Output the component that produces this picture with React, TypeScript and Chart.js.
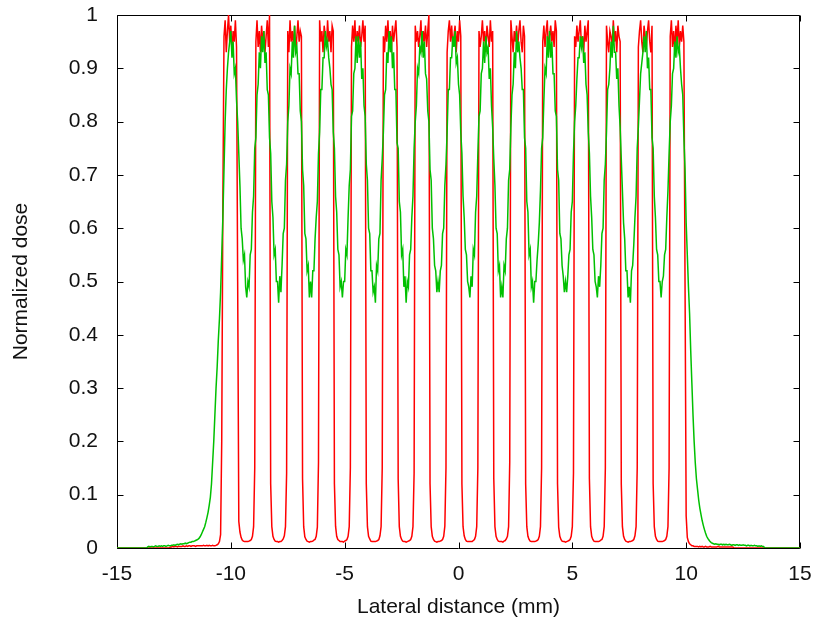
import React, { useEffect, useRef } from 'react';
import { Chart, registerables } from 'chart.js';

Chart.register(...registerables);

// ---- axes ----
const X_MIN = -15;
const X_MAX = 15;
const X_TICK_STEP = 5;
const Y_MIN = 0;
const Y_MAX = 1;
const Y_TICK_STEP = 0.1;
const X_TITLE = 'Lateral distance (mm)';
const Y_TITLE = 'Normalized dose';

// ---- sampling: each segment starts at a given lateral position (mm), samples every 0.05 mm ----
const SAMPLE_STEP = 0.05;
const leftTailStart = -15;
const peakStarts = [-10.7, -9.3, -7.9, -6.5, -5.1, -3.7, -2.3, -0.9, 0.5, 1.9, 3.3, 4.7, 6.1, 7.5, 8.9];
const rightTailStart = 10.3;

// ---- red series (narrow microbeams) ----
const redLeftTail = [
  0,0,0,0,0,0,0,0,0,0, 0,0,0,0,0,0,0,0,0,0, 0,0,0,0,0,0,0,0,0,0, 0,0,0,0,0,0,0,0,0,0, 0,0,0,0,0,0,0,
  0.002,0.002,0.003,0.002,0.003,0.003,0.002,0.003,0.003,0.003,
  0.003,0.004,0.003,0.003,0.004,0.003,0.004,0.004,0.003,0.004,
  0.004,0.004,0.003,0.004,0.004,0.004,0.004,0.004,0.004,0.005,
  0.004,0.004,0.005,0.004,0.005,0.004,0.004,0.005,0.004,
];
const redPeak00 = [0.004,0.005,0.006,0.008,0.012,0.025,0.2,0.65, 0.96,0.99,0.93,0.97,1.0,0.95,0.98,0.93,0.97,0.95,0.99,0.94, 0.5,0.05,0.03,0.02,0.015,0.013,0.012,0.012];
const redPeak01 = [0.012,0.012,0.013,0.014,0.016,0.022,0.04,0.15, 0.95,0.99,0.94,0.97,0.93,0.98,0.95,0.97,0.93,0.96,0.99,0.94,1.0, 0.12,0.04,0.022,0.016,0.013,0.012,0.012];
const redPeak02 = [0.011,0.012,0.012,0.014,0.017,0.023,0.04,0.14, 0.97,0.93,0.99,0.95,0.97,0.94,0.98,0.93,0.96,0.99,0.95,0.97,0.96, 0.13,0.04,0.021,0.016,0.013,0.012,0.011];
const redPeak03 = [0.012,0.012,0.013,0.015,0.016,0.022,0.039,0.16, 0.99,0.95,0.97,0.93,0.98,0.96,0.94,0.99,0.95,0.97,0.93,0.98,0.97, 0.12,0.041,0.022,0.016,0.014,0.012,0.012];
const redPeak04 = [0.012,0.011,0.013,0.014,0.016,0.022,0.04,0.15, 0.94,0.98,0.95,0.99,0.93,0.97,0.95,0.98,0.94,0.96,0.99,0.95,0.98, 0.12,0.04,0.022,0.017,0.013,0.012,0.012];
const redPeak05 = [0.012,0.012,0.013,0.014,0.016,0.023,0.04,0.15, 0.96,0.93,0.98,0.95,0.99,0.94,0.97,0.93,0.98,0.95,0.97,0.99,0.94, 0.13,0.04,0.022,0.016,0.013,0.012,0.012];
const redPeak06 = [0.011,0.012,0.013,0.014,0.016,0.022,0.04,0.14, 0.98,0.95,0.97,0.94,0.96,0.99,0.93,0.97,0.95,0.98,0.94,0.97,1.0, 0.12,0.04,0.022,0.016,0.013,0.012,0.011];
const redPeak07 = [0.012,0.012,0.013,0.014,0.016,0.022,0.041,0.15, 0.93,0.97,0.99,0.95,0.98,0.94,0.96,0.98,0.93,0.97,0.95,0.99,0.96, 0.12,0.04,0.023,0.016,0.013,0.012,0.012];
const redPeak08 = [0.012,0.012,0.012,0.014,0.016,0.022,0.04,0.15, 0.97,0.94,0.96,0.99,0.95,0.97,0.93,0.98,0.96,0.94,0.99,0.95,0.97, 0.13,0.04,0.022,0.016,0.013,0.012,0.012];
const redPeak09 = [0.012,0.011,0.013,0.014,0.017,0.022,0.04,0.16, 0.99,0.96,0.93,0.97,0.95,0.98,0.94,0.97,0.99,0.95,0.93,0.98,0.96, 0.12,0.04,0.022,0.016,0.013,0.012,0.012];
const redPeak10 = [0.012,0.012,0.013,0.014,0.016,0.022,0.04,0.15, 0.95,0.98,0.94,0.97,0.99,0.93,0.96,0.98,0.95,0.97,0.94,0.99,0.97, 0.12,0.039,0.022,0.016,0.013,0.012,0.012];
const redPeak11 = [0.011,0.012,0.013,0.014,0.016,0.022,0.04,0.14, 0.96,0.94,0.98,0.95,0.97,0.99,0.94,0.96,0.93,0.98,0.95,0.97,0.99, 0.13,0.04,0.022,0.016,0.013,0.012,0.012];
const redPeak12 = [0.012,0.012,0.013,0.015,0.016,0.022,0.04,0.15, 0.98,0.95,0.93,0.97,0.96,0.94,0.99,0.95,0.97,0.93,0.98,0.96,0.95, 0.12,0.04,0.022,0.016,0.013,0.012,0.011];
const redPeak13 = [0.012,0.012,0.013,0.014,0.016,0.023,0.04,0.15, 0.94,0.97,0.99,0.95,0.93,0.98,0.96,0.94,0.97,0.99,0.95,0.93,0.98, 0.12,0.04,0.022,0.016,0.013,0.012,0.012];
const redPeak14 = [0.012,0.012,0.013,0.014,0.016,0.022,0.04,0.15, 0.96,0.99,0.94,0.97,0.93,0.98,0.95,0.99,0.94,0.97,0.95,0.98,0.95, 0.5,0.06,0.02,0.012,0.008,0.006,0.004];
const redRightTail = [
  0.004,0.003,0.003,0.003,0.003,0.002,0.003,0.002,0.003,0.002,
  0.002,0.003,0.002,0.002,0.002,0.003,0.002,0.002,0.002,0.002,
  0.002,0.002,0.003,0.002,0.002,0.002,0.002,0.002,0.002,0.002,
  0.002,0.002,0.002,0.002,0.002,0.002,
  0,0,0,0,0,0,0,0,0,0, 0,0,0,0,0,0,0,0,0,0, 0,0,0,0,0,0,0,0,0,0, 0,0,0,0,0,0,0,0,0,0, 0,0,0,0,0,0,0,0,0,0, 0,0,0,0,0,0,0,0,0,
];

// ---- green series (broad, noisy) ----
const greenLeftTail = [
  0,0,0,0,0,0,0,0,0,0, 0,0,0,0,0,0,0,0,0,0, 0,0,0,0,0,0,0,
  0.002,0.003,0.002,0.003,0.003,0.002,0.003,0.004,0.003,0.003,
  0.004,0.003,0.004,0.003,0.004,0.004,0.003,0.004,0.005,0.004,
  0.004,0.005,0.005,
  0.006,0.005,0.006,0.007,0.006,0.007,0.008,0.007,0.008,0.008,0.009,0.008,0.009,0.01,
  0.011,0.011,0.012,0.012,0.013,0.014,0.015,0.016,
  0.018,0.021,0.025,0.03,0.035,0.04,0.048,0.057,0.067,0.08,0.095,0.12,0.16,0.2,
];
const greenPeak00 = [0.25,0.3,0.34,0.39,0.43,0.48,0.55,0.62,0.71,0.8,0.86,0.9,0.93,0.95, 0.97,0.92,0.95,0.89,0.9,0.84,0.8,0.74,0.68,0.6,0.58,0.54,0.55,0.49];
const greenPeak01 = [0.47,0.5,0.49,0.55,0.56,0.63,0.66,0.75,0.77,0.85,0.87,0.93,0.9,0.96, 0.93,0.97,0.91,0.93,0.86,0.85,0.77,0.74,0.65,0.62,0.55,0.56,0.5,0.5];
const greenPeak02 = [0.46,0.51,0.48,0.53,0.59,0.6,0.69,0.72,0.8,0.83,0.9,0.89,0.95,0.92, 0.98,0.93,0.94,0.89,0.89,0.82,0.8,0.71,0.68,0.59,0.58,0.52,0.53,0.47];
const greenPeak03 = [0.5,0.47,0.52,0.52,0.58,0.62,0.65,0.74,0.78,0.86,0.86,0.92,0.92,0.97, 0.94,0.95,0.92,0.9,0.87,0.86,0.78,0.75,0.66,0.63,0.56,0.55,0.49,0.5];
const greenPeak04 = [0.47,0.5,0.5,0.56,0.55,0.62,0.68,0.71,0.81,0.82,0.89,0.9,0.96,0.91, 0.96,0.92,0.95,0.88,0.9,0.83,0.81,0.72,0.69,0.6,0.59,0.52,0.52,0.48];
const greenPeak05 = [0.49,0.46,0.53,0.52,0.58,0.59,0.69,0.73,0.78,0.85,0.86,0.93,0.91,0.97, 0.93,0.96,0.9,0.93,0.86,0.86,0.76,0.75,0.65,0.63,0.55,0.56,0.49,0.51];
const greenPeak06 = [0.46,0.5,0.49,0.55,0.56,0.62,0.66,0.75,0.8,0.83,0.9,0.89,0.94,0.93, 0.97,0.92,0.95,0.89,0.88,0.82,0.8,0.71,0.69,0.6,0.58,0.53,0.52,0.48];
const greenPeak07 = [0.5,0.48,0.52,0.53,0.59,0.6,0.68,0.72,0.78,0.86,0.86,0.92,0.92,0.96, 0.94,0.97,0.91,0.92,0.87,0.85,0.78,0.74,0.66,0.62,0.56,0.55,0.5,0.49];
const greenPeak08 = [0.47,0.51,0.49,0.56,0.55,0.63,0.66,0.74,0.81,0.82,0.89,0.9,0.95,0.91, 0.96,0.93,0.94,0.88,0.9,0.83,0.79,0.73,0.68,0.6,0.59,0.52,0.53,0.47];
const greenPeak09 = [0.49,0.47,0.53,0.52,0.58,0.6,0.69,0.71,0.79,0.85,0.87,0.93,0.9,0.97, 0.93,0.95,0.92,0.9,0.86,0.86,0.77,0.75,0.65,0.63,0.55,0.56,0.49,0.5];
const greenPeak10 = [0.46,0.5,0.5,0.54,0.57,0.61,0.67,0.75,0.77,0.84,0.9,0.89,0.96,0.92, 0.97,0.92,0.95,0.89,0.89,0.82,0.81,0.71,0.69,0.59,0.58,0.53,0.51,0.48];
const greenPeak11 = [0.5,0.48,0.51,0.55,0.56,0.63,0.65,0.74,0.8,0.83,0.88,0.92,0.92,0.96, 0.94,0.96,0.91,0.93,0.87,0.85,0.78,0.74,0.66,0.62,0.56,0.55,0.5,0.49];
const greenPeak12 = [0.47,0.51,0.49,0.53,0.59,0.6,0.69,0.72,0.78,0.86,0.87,0.9,0.95,0.92, 0.98,0.93,0.93,0.88,0.9,0.83,0.79,0.73,0.67,0.61,0.58,0.52,0.52,0.47];
const greenPeak13 = [0.49,0.46,0.52,0.53,0.57,0.62,0.66,0.75,0.79,0.84,0.89,0.91,0.93,0.96, 0.93,0.97,0.9,0.92,0.86,0.86,0.77,0.75,0.66,0.62,0.56,0.55,0.5,0.5];
const greenPeak14 = [0.47,0.5,0.51,0.55,0.56,0.62,0.67,0.74,0.8,0.83,0.89,0.9,0.95,0.92, 0.96,0.93,0.94,0.9,0.87,0.85,0.77,0.71,0.61,0.55,0.49,0.44,0.37,0.31];
const greenRightTail = [
  0.25,0.2,0.16,0.13,0.11,0.09,0.075,0.063,0.052,0.043,0.035,0.028,0.022,0.018,0.015,0.012,0.01,0.009,
  0.008,0.007,0.008,0.007,0.007,0.006,0.007,0.007,0.006,0.007,
  0.006,0.007,0.006,0.006,0.007,0.006,0.005,0.006,0.006,0.005,
  0.006,0.006,0.005,0.006,0.005,0.005,0.006,0.005,0.005,0.004,
  0.005,0.005,0.004,0.005,0.004,0.004,0.005,0.004,0.004,0.003,
  0.004,0.003,0.004,0.003,0.003,
  0,0,0,0,0,0,0,0,0,0, 0,0,0,0,0,0,0,0,0,0, 0,0,0,0,0,0,0,0,0,0, 0,0,
];

const redPeaks = [redPeak00, redPeak01, redPeak02, redPeak03, redPeak04, redPeak05, redPeak06, redPeak07, redPeak08, redPeak09, redPeak10, redPeak11, redPeak12, redPeak13, redPeak14];
const greenPeaks = [greenPeak00, greenPeak01, greenPeak02, greenPeak03, greenPeak04, greenPeak05, greenPeak06, greenPeak07, greenPeak08, greenPeak09, greenPeak10, greenPeak11, greenPeak12, greenPeak13, greenPeak14];

type Pt = { x: number; y: number };
function segmentPoints(start: number, values: number[]): Pt[] {
  return values.map((v, j) => ({ x: +(start + j * SAMPLE_STEP).toFixed(3), y: v }));
}
function buildSeries(leftTail: number[], peaks: number[][], rightTail: number[]): Pt[] {
  const pts: Pt[] = [];
  pts.push(...segmentPoints(leftTailStart, leftTail));
  peaks.forEach((p, k) => pts.push(...segmentPoints(peakStarts[k], p)));
  pts.push(...segmentPoints(rightTailStart, rightTail));
  return pts;
}

const FONT = { family: "'Liberation Sans', Arial, sans-serif", size: 21 };
const TEXT_COLOR = '#111';
const TICK_LEN = 6;

const framePlugin = {
  id: 'gnuplotFrame',
  beforeDatasetsDraw(chart: any) {
    const { ctx, chartArea: a, scales } = chart;
    ctx.save();
    ctx.strokeStyle = '#000';
    ctx.lineWidth = 1;
    const L = Math.round(a.left) + 0.5;
    const R = Math.round(a.right) - 0.5;
    const T = Math.round(a.top) + 0.5;
    const B = Math.round(a.bottom) + 0.5;
    ctx.beginPath();
    ctx.rect(L, T, R - L, B - T);
    ctx.stroke();
    ctx.beginPath();
    for (const t of scales.x.ticks) {
      const px = Math.round(scales.x.getPixelForValue(t.value)) + 0.5;
      ctx.moveTo(px, B); ctx.lineTo(px, B - TICK_LEN);
      ctx.moveTo(px, T); ctx.lineTo(px, T + TICK_LEN);
    }
    for (const t of scales.y.ticks) {
      const py = Math.round(scales.y.getPixelForValue(t.value)) + 0.5;
      ctx.moveTo(L, py); ctx.lineTo(L + TICK_LEN, py);
      ctx.moveTo(R, py); ctx.lineTo(R - TICK_LEN, py);
    }
    ctx.stroke();
    ctx.restore();
  },
};

export default function App() {
  const ref = useRef<HTMLCanvasElement | null>(null);
  useEffect(() => {
    if (!ref.current) return;
    const chart = new Chart(ref.current, {
      type: 'line',
      data: {
        datasets: [
          {
            label: 'green',
            data: buildSeries(greenLeftTail, greenPeaks, greenRightTail),
            borderColor: '#00c000',
            borderWidth: 1.5,
            pointRadius: 0,
            tension: 0,
            fill: false,
          },
          {
            label: 'red',
            data: buildSeries(redLeftTail, redPeaks, redRightTail),
            borderColor: '#ff0000',
            borderWidth: 1.5,
            pointRadius: 0,
            tension: 0,
            fill: false,
          },
        ],
      },
      options: {
        animation: false,
        responsive: false,
        maintainAspectRatio: false,
        devicePixelRatio: 1,
        layout: { padding: { left: 0, top: 15, right: 13, bottom: 0 } },
        plugins: { legend: { display: false }, tooltip: { enabled: false } },
        scales: {
          x: {
            type: 'linear',
            min: X_MIN,
            max: X_MAX,
            grid: { display: false, drawTicks: false, tickLength: 0 },
            border: { display: false },
            ticks: { stepSize: X_TICK_STEP, font: FONT, color: TEXT_COLOR, padding: 14, maxRotation: 0 },
            title: { display: true, text: X_TITLE, font: FONT, color: TEXT_COLOR, padding: { top: 0, bottom: 6 } },
            afterFit: (s: any) => {
              s.height = 78;
              s.paddingLeft = 0;
              s.paddingRight = 0;
            },
          },
          y: {
            type: 'linear',
            min: Y_MIN,
            max: Y_MAX,
            grid: { display: false, drawTicks: false, tickLength: 0 },
            border: { display: false },
            ticks: {
              stepSize: Y_TICK_STEP,
              font: FONT,
              color: TEXT_COLOR,
              padding: 19,
              callback: (v: any) => String(+Number(v).toFixed(1)),
            },
            title: { display: true, text: Y_TITLE, font: FONT, color: TEXT_COLOR, padding: { top: 9, bottom: 0 } },
            afterFit: (s: any) => {
              s.width = 117;
              s.paddingTop = 0;
              s.paddingBottom = 0;
            },
          },
        },
      },
      plugins: [framePlugin],
    });
    return () => chart.destroy();
  }, []);
  return (
    <div style={{ position: 'fixed', left: 0, top: 0, width: 813, height: 626, background: '#fff' }}>
      <canvas ref={ref} width={813} height={626} style={{ display: 'block', width: 813, height: 626 }} />
    </div>
  );
}
